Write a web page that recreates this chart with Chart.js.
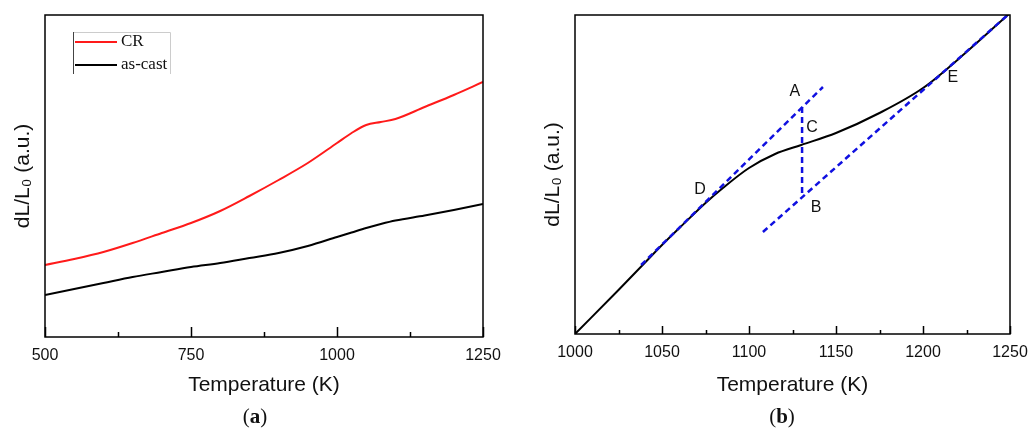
<!DOCTYPE html>
<html>
<head>
<meta charset="utf-8">
<title>Dilatometry curves</title>
<script src="https://cdn.jsdelivr.net/npm/chart.js@4.4.1/dist/chart.umd.min.js"></script>
<style>
    html, body { margin: 0; padding: 0; background: #fff; }
    #wrap { position: relative; width: 1032px; height: 431px; overflow: hidden; }
    .panel { position: absolute; top: 0; }
    .caption {
        position: absolute; top: 404px; width: 100px; text-align: center;
        font-family: 'Liberation Serif', 'DejaVu Serif', serif; font-size: 21px; color: #111;
    }
</style>
</head>
<body>
<div id="wrap">
    <canvas id="chartA" class="panel" style="left:0" width="516" height="431"></canvas>
    <canvas id="chartB" class="panel" style="left:516px" width="516" height="431"></canvas>
    <div class="caption" style="left:205px">(<b>a</b>)</div>
    <div class="caption" style="left:732px">(<b>b</b>)</div>
</div>
<script>
// ============================================
// Data (arbitrary units)
// ============================================
const leftTemps = [500, 550, 600, 650, 700, 750, 800, 850, 900, 950, 1000, 1025, 1050, 1075, 1100, 1150, 1200, 1250];
const crValues = [72, 78, 85, 94, 104, 114, 126, 141, 157, 174, 194, 204, 212, 215, 218, 230, 242, 255];
const asCastValues = [42, 48, 54, 60, 65, 70, 74, 79, 84, 91, 100, 104.5, 109, 113, 116.5, 121.5, 127, 133];

const rightTemps = [1000, 1025, 1040, 1050, 1060, 1075, 1085, 1100, 1115, 1130, 1150, 1175, 1200, 1225, 1250];
const rightValues = [0, 44, 71, 89, 106, 131, 146, 166, 180, 189, 201, 221, 246, 282, 321];

// construction lines in panel (b)
const daLineT = [1038, 1142.5];
const daLineV = [69, 247];
const abLineT = [1130.5, 1130.5];
const abLineV = [227, 137];
const beLineT = [1108, 1250];
const beLineV = [102, 321];

// point letters in panel (b)
const markNames = ['A', 'B', 'C', 'D', 'E'];
const markT = [1126.4, 1138.5, 1136.2, 1071.8, 1217.2];
const markV = [242, 126, 206, 144, 256];

// tick labels
const leftTicks = [500, 750, 1000, 1250];
const leftMinorTicks = [625, 875, 1125];
const rightTicks = [1000, 1050, 1100, 1150, 1200, 1250];
const rightMinorTicks = [1025, 1075, 1125, 1175, 1225];

const SANS = "Arial, 'Liberation Sans', 'DejaVu Sans', sans-serif";
const SERIF = "'Times New Roman', 'Liberation Serif', serif";

Chart.defaults.font.family = SANS;
Chart.defaults.color = '#111';

function toPoints(xs, ys) {
    return xs.map((x, i) => ({ x: x, y: ys[i] }));
}

// ============================================
// Plugins
// ============================================
// box around the plot and tick marks pointing inwards
const framePlugin = {
    id: 'frame',
    afterDatasetsDraw(chart, args, opts) {
        const ctx = chart.ctx;
        const a = chart.chartArea;
        const x = chart.scales.x;
        ctx.save();
        ctx.strokeStyle = '#000';
        ctx.lineWidth = 1.5;
        ctx.strokeRect(a.left, a.top, a.right - a.left, a.bottom - a.top);
        ctx.beginPath();
        opts.major.forEach(v => {
            const px = Math.round(x.getPixelForValue(v)) + 0.5;
            ctx.moveTo(px, a.bottom);
            ctx.lineTo(px, a.bottom - opts.majorLen);
        });
        opts.minor.forEach(v => {
            const px = Math.round(x.getPixelForValue(v)) + 0.5;
            ctx.moveTo(px, a.bottom);
            ctx.lineTo(px, a.bottom - opts.minorLen);
        });
        ctx.stroke();
        ctx.restore();
    }
};

// small legend box in the top left corner of panel (a)
const boxLegendPlugin = {
    id: 'boxLegend',
    afterDatasetsDraw(chart, args, opts) {
        if (!opts.show) return;
        const ctx = chart.ctx;
        const a = chart.chartArea;
        const left = a.left + 28, top = a.top + 17;
        const w = 97, h = 42;
        ctx.save();
        ctx.lineWidth = 1;
        ctx.strokeStyle = '#ccc';
        ctx.beginPath();
        ctx.moveTo(left + 0.5, top + 0.5);
        ctx.lineTo(left + w + 0.5, top + 0.5);
        ctx.lineTo(left + w + 0.5, top + h);
        ctx.stroke();
        ctx.strokeStyle = '#444';
        ctx.beginPath();
        ctx.moveTo(left + 0.5, top);
        ctx.lineTo(left + 0.5, top + h);
        ctx.stroke();
        ctx.font = '17px ' + SERIF;
        ctx.textBaseline = 'middle';
        ctx.fillStyle = '#111';
        chart.data.datasets.forEach((ds, i) => {
            const y = top + 10 + i * 23;
            ctx.strokeStyle = ds.borderColor;
            ctx.lineWidth = 2;
            ctx.beginPath();
            ctx.moveTo(left + 2, y);
            ctx.lineTo(left + 44, y);
            ctx.stroke();
            ctx.fillText(ds.label, left + 48, y);
        });
        ctx.restore();
    }
};

// letters A..E placed through the scales
const letterPlugin = {
    id: 'letters',
    afterDatasetsDraw(chart, args, opts) {
        if (!opts.names) return;
        const ctx = chart.ctx;
        const x = chart.scales.x, y = chart.scales.y;
        ctx.save();
        ctx.font = '16px ' + SANS;
        ctx.fillStyle = '#111';
        ctx.textAlign = 'center';
        ctx.textBaseline = 'middle';
        opts.names.forEach((n, i) => {
            ctx.fillText(n, x.getPixelForValue(opts.t[i]), y.getPixelForValue(opts.v[i]));
        });
        ctx.restore();
    }
};

// ============================================
// Shared options
// ============================================
function buildOptions(cfg) {
    return {
        responsive: false,
        animation: false,
        events: [],
        layout: { padding: { top: 15, right: cfg.padRight, left: 0, bottom: 0 } },
        plugins: {
            legend: { display: false },
            tooltip: { enabled: false },
            frame: { major: cfg.major, minor: cfg.minor, majorLen: cfg.majorLen, minorLen: cfg.minorLen },
            boxLegend: { show: !!cfg.legend },
            letters: cfg.letters || {}
        },
        scales: {
            x: {
                type: 'linear',
                min: cfg.xMin,
                max: cfg.xMax,
                afterBuildTicks: s => { s.ticks = cfg.major.map(v => ({ value: v })); },
                afterFit: s => {
                    s.height = cfg.xHeight;
                    // let the layout padding alone decide the plot edges
                    s.paddingLeft = 0;
                    s.paddingRight = 0;
                },
                grid: { display: false, drawTicks: false },
                border: { display: false },
                ticks: {
                    padding: 9, font: { size: 16 }, color: '#111', maxRotation: 0, autoSkip: false,
                    callback: v => String(v)
                },
                title: {
                    display: true,
                    text: 'Temperature (K)',
                    font: { size: 21 },
                    color: '#111',
                    padding: { top: 4, bottom: 33 }
                }
            },
            y: {
                type: 'linear',
                min: 0,
                max: cfg.yMax,
                afterFit: s => { s.width = cfg.yWidth; },
                grid: { display: false, drawTicks: false },
                border: { display: false },
                ticks: { display: false },
                title: {
                    display: true,
                    text: 'dL/L\u2080 (a.u.)',
                    font: { size: 21 },
                    color: '#111',
                    padding: { top: cfg.yTitlePad, bottom: 0 }
                }
            }
        },
        elements: { point: { radius: 0 } }
    };
}

// ============================================
// Panel (a)
// ============================================
new Chart(document.getElementById('chartA'), {
    type: 'line',
    data: {
        datasets: [
            {
                label: 'CR',
                data: toPoints(leftTemps, crValues),
                borderColor: '#ff1a1a',
                borderWidth: 2,
                cubicInterpolationMode: 'monotone'
            },
            {
                label: 'as-cast',
                data: toPoints(leftTemps, asCastValues),
                borderColor: '#000',
                borderWidth: 2,
                cubicInterpolationMode: 'monotone'
            }
        ]
    },
    options: buildOptions({
        xMin: 500, xMax: 1250, yMax: 322,
        major: leftTicks, minor: leftMinorTicks, majorLen: 10, minorLen: 5,
        padRight: 33, xHeight: 94, yWidth: 45, yTitlePad: 11,
        legend: true
    }),
    plugins: [framePlugin, boxLegendPlugin, letterPlugin]
});

// ============================================
// Panel (b)
// ============================================
const dashed = { borderColor: '#1010e0', borderWidth: 2.5, borderDash: [6, 4], tension: 0, order: 0 };

new Chart(document.getElementById('chartB'), {
    type: 'line',
    data: {
        datasets: [
            Object.assign({ label: 'D-A', data: toPoints(daLineT, daLineV) }, dashed),
            Object.assign({ label: 'A-B', data: toPoints(abLineT, abLineV) }, dashed),
            Object.assign({ label: 'B-E', data: toPoints(beLineT, beLineV) }, dashed),
            {
                label: 'curve',
                data: toPoints(rightTemps, rightValues),
                borderColor: '#000',
                borderWidth: 2,
                cubicInterpolationMode: 'monotone',
                order: 1
            }
        ]
    },
    options: buildOptions({
        xMin: 1000, xMax: 1250, yMax: 319,
        major: rightTicks, minor: rightMinorTicks, majorLen: 8, minorLen: 4,
        padRight: 22, xHeight: 97, yWidth: 59, yTitlePad: 25,
        letters: { names: markNames, t: markT, v: markV }
    }),
    plugins: [framePlugin, boxLegendPlugin, letterPlugin]
});
</script>
</body>
</html>
